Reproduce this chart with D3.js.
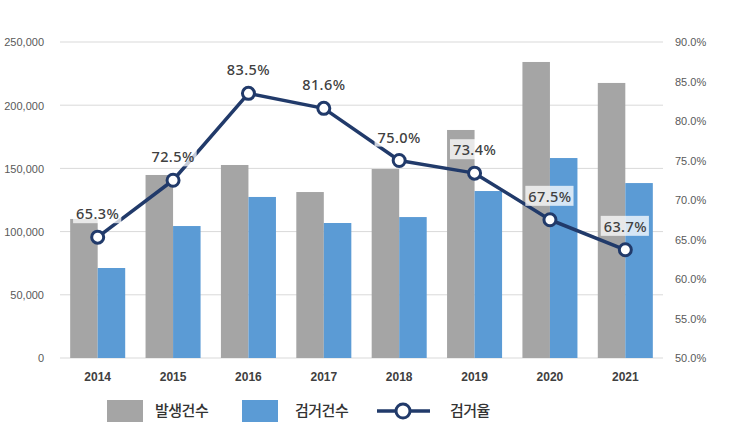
<!DOCTYPE html>
<html><head><meta charset="utf-8">
<script src="https://cdn.jsdelivr.net/npm/d3@7"></script>
<style>body{margin:0;background:#fff;}svg{display:block;font-family:"Noto Sans","Noto Sans CJK KR",sans-serif;}</style>
</head><body>
<svg id="c" width="730" height="444"></svg>
<script>
const years = ["2014","2015","2016","2017","2018","2019","2020","2021"];
const occurred = [110000,144800,152700,131300,149500,180400,234200,217600];
const arrested = [71200,104400,127400,106800,111500,132100,158200,138400];
const rate = [65.3,72.5,83.5,81.6,75.0,73.4,67.5,63.7];
const leftTicks = [0,50000,100000,150000,200000,250000];
const rightTicks = [50,55,60,65,70,75,80,85,90];
const legendLabels = ["발생건수","검거건수","검거율"];

const svg = d3.select("#c");
const L = 60, R = 663, T = 42, B = 358;
const x = d3.scaleBand().domain(years).range([L,R]).paddingInner(0.27).paddingOuter(0.135);
const yL = d3.scaleLinear().domain([0,250000]).range([B,T]);
const yR = d3.scaleLinear().domain([50,90]).range([B,T]);
const sub = d3.scaleBand().domain([0,1]).range([0,x.bandwidth()]);

// gridlines
svg.append("g").selectAll("line").data(leftTicks).join("line")
  .attr("x1",L).attr("x2",R).attr("y1",d=>yL(d)).attr("y2",d=>yL(d))
  .attr("stroke","#d9d9d9").attr("stroke-width",1);

// left axis
const gl = svg.append("g").attr("transform",`translate(${L-13},0)`)
  .call(d3.axisLeft(yL).tickValues(leftTicks).tickFormat(d3.format(",")).tickSize(0));
gl.select(".domain").remove();
gl.selectAll("text").attr("fill","#595959").attr("font-size",11).attr("dy","0.35em");

// right axis
const gr = svg.append("g").attr("transform",`translate(${R+9},0)`)
  .call(d3.axisRight(yR).tickValues(rightTicks).tickFormat(d=>d.toFixed(1)+"%").tickSize(0));
gr.select(".domain").remove();
gr.selectAll("text").attr("fill","#595959").attr("font-size",11).attr("dy","0.35em");

// bottom axis
const gb = svg.append("g").attr("transform",`translate(0,${B})`)
  .call(d3.axisBottom(x).tickSize(0).tickPadding(14));
gb.select(".domain").remove();
gb.selectAll("text").attr("fill","#404040").attr("font-size",12).attr("font-weight","bold");

// bars
svg.append("g").selectAll("rect").data(years).join("rect")
  .attr("x",d=>x(d)+sub(0)).attr("width",sub.bandwidth())
  .attr("y",(d,i)=>yL(occurred[i])).attr("height",(d,i)=>B-yL(occurred[i]))
  .attr("fill","#a5a5a5");
svg.append("g").selectAll("rect").data(years).join("rect")
  .attr("x",d=>x(d)+sub(1)).attr("width",sub.bandwidth())
  .attr("y",(d,i)=>yL(arrested[i])).attr("height",(d,i)=>B-yL(arrested[i]))
  .attr("fill","#5b9bd5");

// line
const cx = d=>x(d)+x.bandwidth()/2;
const line = d3.line().x((d,i)=>cx(years[i])).y(d=>yR(d));
svg.append("path").datum(rate).attr("d",line).attr("fill","none")
  .attr("stroke","#213a6a").attr("stroke-width",3.5).attr("stroke-linejoin","round");

// labels
const lg = svg.append("g");
rate.forEach((v,i)=>{
  const px = cx(years[i]), py = yR(v)-23;
  const t = lg.append("text").attr("x",px).attr("y",py).attr("text-anchor","middle")
    .attr("dy","0.35em").attr("font-size",14.5).attr("font-weight","500").attr("fill","#404040")
    .attr("letter-spacing","0.4").text(v.toFixed(1)+"%");
  const bb = t.node().getBBox();
  lg.insert("rect","text").attr("x",bb.x-3).attr("y",bb.y).attr("width",bb.width+5).attr("height",bb.height)
    .attr("fill","#ffffff").attr("fill-opacity",0.75);
});
// markers
svg.append("g").selectAll("circle").data(rate).join("circle")
  .attr("cx",(d,i)=>cx(years[i])).attr("cy",d=>yR(d)).attr("r",6)
  .attr("fill","#fff").attr("stroke","#213a6a").attr("stroke-width",3);
svg.node().appendChild(lg.node());

// legend
const leg = svg.append("g");
leg.append("rect").attr("x",107).attr("y",400).attr("width",36).attr("height",22).attr("fill","#a5a5a5");
leg.append("text").attr("x",155).attr("y",411).attr("dy","0.35em").text(legendLabels[0]);
leg.append("rect").attr("x",242).attr("y",400).attr("width",36).attr("height",22).attr("fill","#5b9bd5");
leg.append("text").attr("x",295).attr("y",411).attr("dy","0.35em").text(legendLabels[1]);
leg.append("line").attr("x1",377).attr("x2",430).attr("y1",411).attr("y2",411).attr("stroke","#213a6a").attr("stroke-width",3.5);
leg.append("circle").attr("cx",403).attr("cy",411).attr("r",7).attr("fill","#fff").attr("stroke","#213a6a").attr("stroke-width",3);
leg.append("text").attr("x",450).attr("y",411).attr("dy","0.35em").text(legendLabels[2]);
leg.selectAll("text").attr("font-size",15).attr("font-weight","500").attr("fill","#333")
  .attr("letter-spacing","-0.5").attr("font-family","'Noto Sans CJK KR',sans-serif");
</script>
</body></html>
